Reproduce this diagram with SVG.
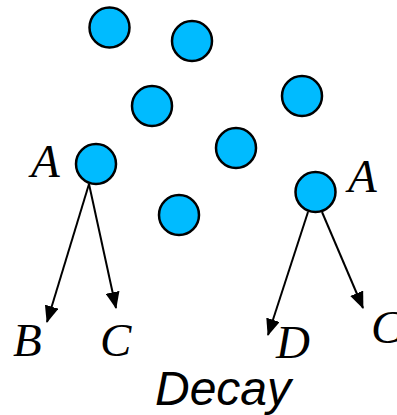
<svg xmlns="http://www.w3.org/2000/svg" width="397" height="415" viewBox="0 0 397 415">
  <style>
    .p { fill: #00BBFF; stroke: #000; stroke-width: 2.5; }
    .lbl { font-family: "Liberation Serif", "Times New Roman", serif; font-style: italic; font-size: 47px; fill: #000; }
    .cap { font-family: "Liberation Sans", Arial, sans-serif; font-style: italic; font-size: 48px; fill: #000; }
    .edge { stroke: #000; stroke-width: 2; fill: none; marker-end: url(#arrow); }
  </style>
  <defs>
    <marker id="arrow" viewBox="0 0 17 14" refX="16" refY="7" markerWidth="17" markerHeight="14" markerUnits="userSpaceOnUse" orient="auto">
      <path d="M0,0 L17,7 L0,14 Z" fill="#000"/>
    </marker>
  </defs>

  <rect width="397" height="415" fill="#fff"/>

  <!-- decay products -->
  <g id="connectors">
    <line class="edge" x1="89" y1="184" x2="47" y2="322"/>
    <line class="edge" x1="89" y1="184" x2="116" y2="308"/>
    <line class="edge" x1="308" y1="212" x2="268" y2="335"/>
    <line class="edge" x1="322" y1="212" x2="363" y2="308"/>
  </g>

  <!-- particles -->
  <g id="p1"><circle class="p" cx="109.5" cy="27.5" r="20"/></g>
  <g id="p2"><circle class="p" cx="192" cy="41" r="20"/></g>
  <g id="p3"><circle class="p" cx="152" cy="106" r="20"/></g>
  <g id="p4"><circle class="p" cx="302" cy="96" r="20"/></g>
  <g id="p5"><circle class="p" cx="236" cy="148" r="20"/></g>
  <g id="p6"><circle class="p" cx="179" cy="215" r="20"/></g>
  <g id="nodeA1"><circle class="p" cx="96" cy="164" r="20"/><text class="lbl" x="31" y="177">A</text></g>
  <g id="nodeA2"><circle class="p" cx="315.5" cy="192" r="20"/><text class="lbl" x="348" y="192">A</text></g>

  <g id="nodeB"><text class="lbl" x="13" y="356">B</text></g>
  <g id="nodeC1"><text class="lbl" x="100" y="356">C</text></g>
  <g id="nodeD"><text class="lbl" x="276" y="358">D</text></g>
  <g id="nodeC2"><text class="lbl" x="371" y="343">C</text></g>

  <text class="cap" x="155" y="405">Decay</text>
</svg>
